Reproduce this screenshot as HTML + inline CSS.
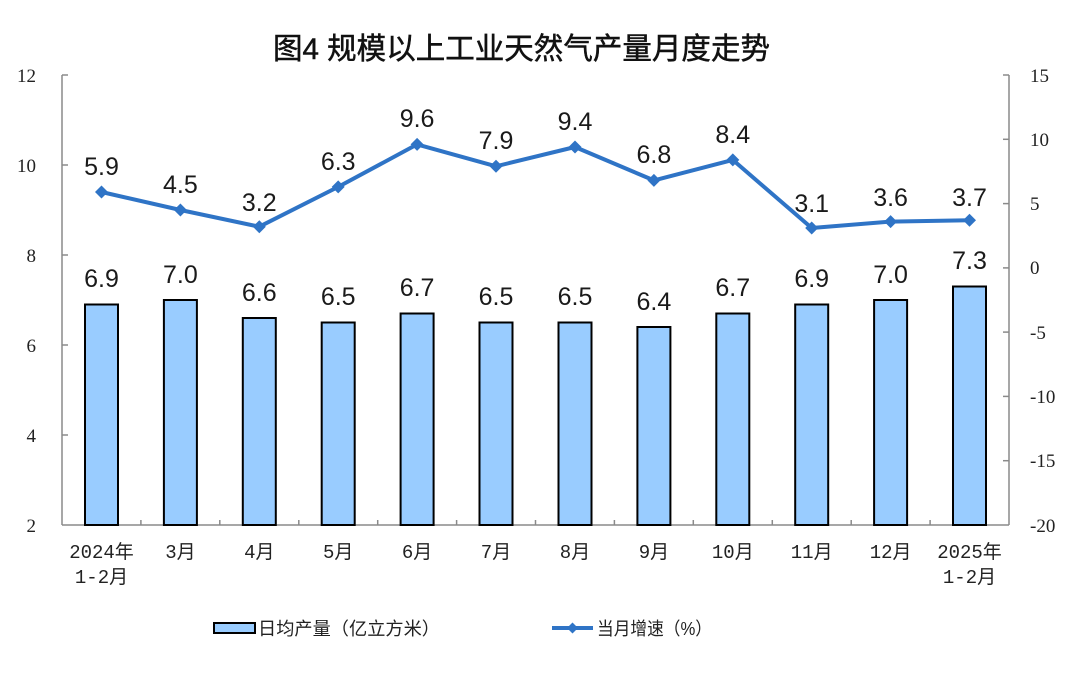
<!DOCTYPE html>
<html><head><meta charset="utf-8"><style>
html,body{margin:0;padding:0;background:#fff;}
svg{display:block;}
</style></head><body>
<svg width="1080" height="688" viewBox="0 0 1080 688" xmlns="http://www.w3.org/2000/svg">
<rect width="1080" height="688" fill="#fff"/>
<text x="273" y="59" font-family="'Liberation Sans','Noto Sans CJK SC',sans-serif" font-size="30" font-weight="normal" fill="#111" stroke="#111" stroke-width="0.5" textLength="497" lengthAdjust="spacingAndGlyphs">图4 规模以上工业天然气产量月度走势</text>

<g stroke="#8a8a8a" stroke-width="1.5" fill="none">
<line x1="62" y1="75" x2="62" y2="525"/>
<line x1="1009" y1="75" x2="1009" y2="525"/>
<line x1="62" y1="525" x2="1009" y2="525"/>
<line x1="62" y1="75" x2="68" y2="75"/><line x1="62" y1="165" x2="68" y2="165"/><line x1="62" y1="255" x2="68" y2="255"/><line x1="62" y1="345" x2="68" y2="345"/><line x1="62" y1="435" x2="68" y2="435"/>
<line x1="1003" y1="75" x2="1009" y2="75"/><line x1="1003" y1="139.3" x2="1009" y2="139.3"/><line x1="1003" y1="203.6" x2="1009" y2="203.6"/><line x1="1003" y1="267.9" x2="1009" y2="267.9"/><line x1="1003" y1="332.1" x2="1009" y2="332.1"/><line x1="1003" y1="396.4" x2="1009" y2="396.4"/><line x1="1003" y1="460.7" x2="1009" y2="460.7"/>
<line x1="140.9" y1="520" x2="140.9" y2="525"/><line x1="219.8" y1="520" x2="219.8" y2="525"/><line x1="298.8" y1="520" x2="298.8" y2="525"/><line x1="377.7" y1="520" x2="377.7" y2="525"/><line x1="456.6" y1="520" x2="456.6" y2="525"/><line x1="535.5" y1="520" x2="535.5" y2="525"/><line x1="614.4" y1="520" x2="614.4" y2="525"/><line x1="693.3" y1="520" x2="693.3" y2="525"/><line x1="772.3" y1="520" x2="772.3" y2="525"/><line x1="851.2" y1="520" x2="851.2" y2="525"/><line x1="930.1" y1="520" x2="930.1" y2="525"/>
</g>

<g font-family="'Liberation Serif',serif" font-size="19" fill="#222" text-anchor="end">
<text x="36" y="82">12</text><text x="36" y="172">10</text><text x="36" y="262">8</text><text x="36" y="352">6</text><text x="36" y="442">4</text><text x="36" y="532">2</text>
</g>
<g font-family="'Liberation Serif',serif" font-size="19" fill="#222" text-anchor="start">
<text x="1030" y="82">15</text><text x="1030" y="146">10</text><text x="1030" y="210">5</text><text x="1030" y="274">0</text><text x="1030" y="339">-5</text><text x="1030" y="403">-10</text><text x="1030" y="467">-15</text><text x="1030" y="532">-20</text>
</g>

<g fill="#99CCFF" stroke="#000" stroke-width="2">
<rect x="85" y="304.5" width="33" height="220.5"/>
<rect x="163.9" y="300" width="33" height="225"/>
<rect x="242.8" y="318" width="33" height="207"/>
<rect x="321.7" y="322.5" width="33" height="202.5"/>
<rect x="400.6" y="313.5" width="33" height="211.5"/>
<rect x="479.5" y="322.5" width="33" height="202.5"/>
<rect x="558.5" y="322.5" width="33" height="202.5"/>
<rect x="637.4" y="327" width="33" height="198"/>
<rect x="716.3" y="313.5" width="33" height="211.5"/>
<rect x="795.2" y="304.5" width="33" height="220.5"/>
<rect x="874.1" y="300" width="33" height="225"/>
<rect x="953" y="286.5" width="33" height="238.5"/>
</g>

<polyline fill="none" stroke="#2F74C6" stroke-width="4" stroke-linejoin="round" points="101.5,192 180.4,210 259.3,226.7 338.2,186.9 417.1,144.4 496,166.3 575,147 653.9,180.4 732.8,159.9 811.7,228 890.6,221.6 969.5,220.3"/>
<g fill="#2F74C6">
<path d="M101.5,185.5 l6.5,6.5 l-6.5,6.5 l-6.5,-6.5z"/>
<path d="M180.4,203.5 l6.5,6.5 l-6.5,6.5 l-6.5,-6.5z"/>
<path d="M259.3,220.2 l6.5,6.5 l-6.5,6.5 l-6.5,-6.5z"/>
<path d="M338.2,180.4 l6.5,6.5 l-6.5,6.5 l-6.5,-6.5z"/>
<path d="M417.1,137.9 l6.5,6.5 l-6.5,6.5 l-6.5,-6.5z"/>
<path d="M496,159.8 l6.5,6.5 l-6.5,6.5 l-6.5,-6.5z"/>
<path d="M575,140.5 l6.5,6.5 l-6.5,6.5 l-6.5,-6.5z"/>
<path d="M653.9,173.9 l6.5,6.5 l-6.5,6.5 l-6.5,-6.5z"/>
<path d="M732.8,153.4 l6.5,6.5 l-6.5,6.5 l-6.5,-6.5z"/>
<path d="M811.7,221.5 l6.5,6.5 l-6.5,6.5 l-6.5,-6.5z"/>
<path d="M890.6,215.1 l6.5,6.5 l-6.5,6.5 l-6.5,-6.5z"/>
<path d="M969.5,213.8 l6.5,6.5 l-6.5,6.5 l-6.5,-6.5z"/>
</g>

<g font-family="'Liberation Sans',sans-serif" font-size="25" fill="#1a1a1a" text-anchor="middle">
<text x="101.5" y="175">5.9</text>
<text x="180.4" y="193">4.5</text>
<text x="259.3" y="211">3.2</text>
<text x="338.2" y="170">6.3</text>
<text x="417.1" y="127">9.6</text>
<text x="496" y="149">7.9</text>
<text x="575" y="130">9.4</text>
<text x="653.9" y="163">6.8</text>
<text x="732.8" y="143">8.4</text>
<text x="811.7" y="212">3.1</text>
<text x="890.6" y="206">3.6</text>
<text x="969.5" y="206">3.7</text>

<text x="101.5" y="287">6.9</text>
<text x="180.4" y="283">7.0</text>
<text x="259.3" y="301">6.6</text>
<text x="338.2" y="305">6.5</text>
<text x="417.1" y="296">6.7</text>
<text x="496" y="305">6.5</text>
<text x="575" y="305">6.5</text>
<text x="653.9" y="310">6.4</text>
<text x="732.8" y="296">6.7</text>
<text x="811.7" y="287">6.9</text>
<text x="890.6" y="283">7.0</text>
<text x="969.5" y="269">7.3</text>
</g>

<g font-family="'Liberation Mono','Noto Sans CJK SC',monospace" font-size="19" fill="#222" text-anchor="middle">
<text x="101.5" y="558">2024年</text>
<text x="101.5" y="583">1-2月</text>
<text x="180.4" y="558">3月</text>
<text x="259.3" y="558">4月</text>
<text x="338.2" y="558">5月</text>
<text x="417.1" y="558">6月</text>
<text x="496" y="558">7月</text>
<text x="575" y="558">8月</text>
<text x="653.9" y="558">9月</text>
<text x="732.8" y="558">10月</text>
<text x="811.7" y="558">11月</text>
<text x="890.6" y="558">12月</text>
<text x="969.5" y="558">2025年</text>
<text x="969.5" y="583">1-2月</text>
</g>

<rect x="214" y="623" width="41" height="10" fill="#99CCFF" stroke="#000" stroke-width="2"/>
<text x="258" y="635" font-family="'Liberation Sans','Noto Sans CJK SC',sans-serif" font-size="18" fill="#222" textLength="182" lengthAdjust="spacingAndGlyphs">日均产量（亿立方米）</text>
<line x1="552" y1="628" x2="593" y2="628" stroke="#2F74C6" stroke-width="4"/>
<path d="M572.5,622.5 l5.5,5.5 l-5.5,5.5 l-5.5,-5.5z" fill="#2F74C6"/>
<text x="597" y="635" font-family="'Liberation Sans','Noto Sans CJK SC',sans-serif" font-size="18" fill="#222" textLength="115" lengthAdjust="spacingAndGlyphs">当月增速（%）</text>
</svg>
</body></html>
